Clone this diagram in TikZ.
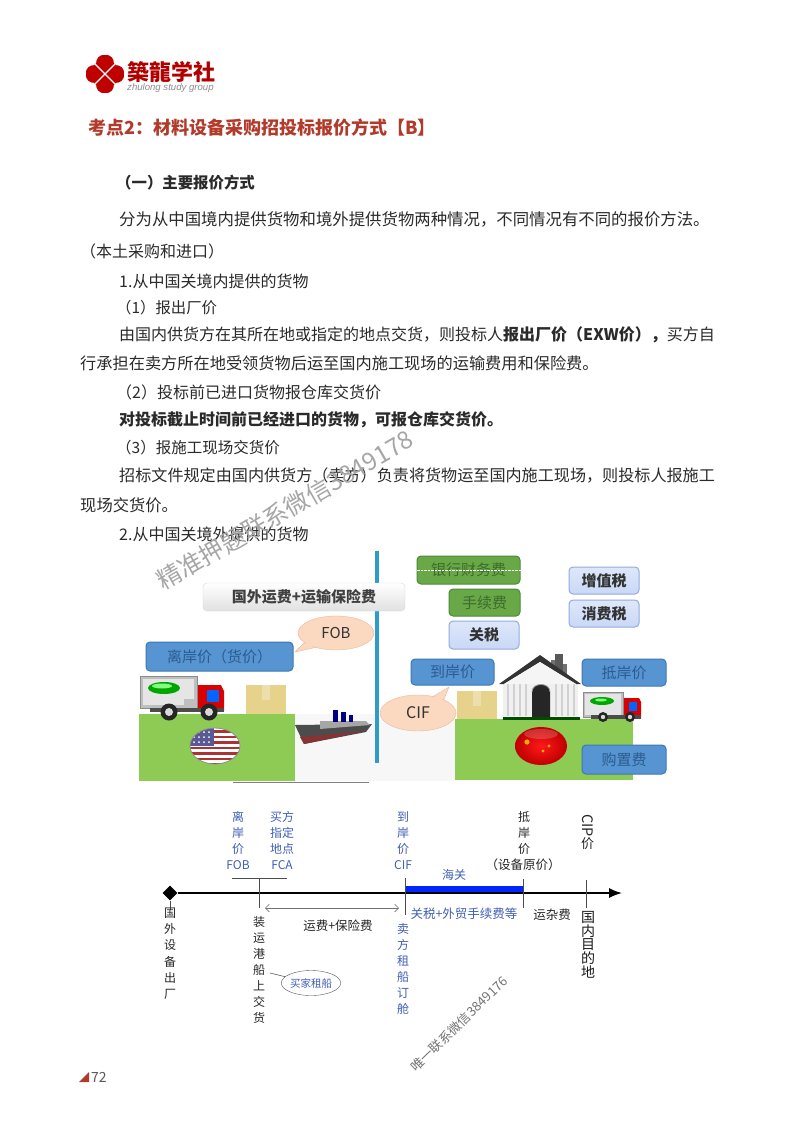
\documentclass[tikz,border=0pt]{standalone}
\usepackage{fontspec}
\usetikzlibrary{shapes.geometric,arrows.meta,shadows}
\setmainfont{Noto Sans CJK SC}
\newfontfamily\latinf{Liberation Sans}
\definecolor{titlered}{HTML}{B23A2B}
\definecolor{bodyk}{HTML}{2A2A2A}
\definecolor{tlblue}{HTML}{3F5FB5}
\definecolor{blbox}{HTML}{5694D2}
\definecolor{blboxd}{HTML}{3E78B4}
\definecolor{blboxt}{HTML}{2C5C8E}
\definecolor{grnbox}{HTML}{68A846}
\definecolor{grnboxd}{HTML}{4C8A38}
\definecolor{grnboxt}{HTML}{3D6C2C}
\definecolor{ground}{HTML}{8DCB55}
\definecolor{pale}{HTML}{C9D8F6}
\definecolor{paled}{HTML}{93ABDF}
\definecolor{peach}{HTML}{FBD8C0}
\definecolor{peachd}{HTML}{EFB899}
\definecolor{cardboard}{HTML}{E6D28A}
\definecolor{divline}{HTML}{2E9CC8}
\tikzset{
  x=1pt,y=-1pt,
  bodyline/.style={anchor=west,inner sep=0pt,font=\fontsize{16}{16}\selectfont,text=bodyk},
  boldline/.style={bodyline,font=\fontsize{16}{16}\selectfont\bfseries},
  pbox/.style={draw=blboxd,line width=1pt,rounded corners=4pt,fill=blbox,inner sep=0pt,text=blboxt,font=\fontsize{15}{15}\selectfont},
  gbox/.style={draw=grnboxd,line width=1pt,rounded corners=4pt,fill=grnbox,inner sep=0pt,text=grnboxt,font=\fontsize{15}{15}\selectfont},
  lbox/.style={draw=paled,line width=1pt,rounded corners=4pt,top color=pale!60!white,bottom color=pale,inner sep=0pt,text=black!80,font=\fontsize{15}{15}\selectfont\bfseries},
  bubble/.style={ellipse,draw=peachd,fill=peach,inner sep=0pt,text=black!80,font=\fontsize{15}{15}\selectfont},
  vtext/.style={align=center,inner sep=0pt,font=\fontsize{12}{16.1}\selectfont},
  tick/.style={draw=black!70,line width=.8pt},
  mark0/.style={text=black!60,inner sep=0pt,font=\fontsize{13}{13}\selectfont},
  tllabel/.style={inner sep=0pt,font=\fontsize{12.5}{12.5}\selectfont},
}
\begin{document}
\begin{tikzpicture}
\useasboundingbox (0,0) rectangle (800,1132);
\fill[white] (0,0) rectangle (800,1132);

% logo
\begin{scope}[shift={(105,74)}]
  \foreach \a in {0,90,180,270}{
    \fill[red!75!black,rotate=\a] (0,0) -- (-8,-8) .. controls (-11,-15) and (-5,-20) .. (0,-19) .. controls (5,-20) and (11,-15) .. (8,-8) -- cycle;
    \fill[red!75!black,rotate=\a+45] (0,0) -- (-8,-6) -- (-6,-14) -- (6,-14) -- (8,-6) -- cycle;
  }
  \draw[white,line width=1.4pt] (-11,-11) -- (11,11) (-11,11) -- (11,-11);
\end{scope}
\node[inner sep=0pt,anchor=west,text=red!70!black,font=\fontsize{22}{22}\selectfont\bfseries] (logotext) at (127,72) {築龍学社};
\node[inner sep=0pt,anchor=west,text=black!45,font=\fontsize{9.6}{9.6}\selectfont] (logosub) at (127,88.5) {\latinf\itshape zhulong study group};

% title and text
\node[bodyline,text=titlered,font=\fontsize{18}{18}\selectfont\bfseries] (title) at (88,128) {考点2：材料设备采购招投标报价方式【B】};
\node[boldline,font=\fontsize{15.4}{15.4}\selectfont\bfseries] (h1) at (116,183) {（一）主要报价方式};
\node[bodyline,font=\fontsize{16.4}{16.4}\selectfont] (t1) at (119,219) {分为从中国境内提供货物和境外提供货物两种情况，不同情况有不同的报价方法。};
\node[bodyline] (t2) at (80,251) {（本土采购和进口）};
\node[bodyline] (t3) at (119,281) {1.从中国关境内提供的货物};
\node[bodyline,font=\fontsize{15.4}{15.4}\selectfont] (t4) at (116,308) {（1）报出厂价};
\node[bodyline] (t5) at (119,335) {由国内供货方在其所在地或指定的地点交货，则投标人\textbf{报出厂价（EXW价），}买方自};
\node[bodyline,font=\fontsize{16.2}{16.2}\selectfont] (t6) at (80,363) {行承担在卖方所在地受领货物后运至国内施工现场的运输费用和保险费。};
\node[bodyline] (t7) at (116,392) {（2）投标前已进口货物报仓库交货价};
\node[boldline] (t8) at (119,420) {对投标截止时间前已经进口的货物，可报仓库交货价。};
\node[bodyline,font=\fontsize{15.5}{15.5}\selectfont] (t9) at (116,448) {（3）报施工现场交货价};
\node[bodyline,font=\fontsize{16.1}{16.1}\selectfont] (t10) at (119,475) {招标文件规定由国内供货方（卖方）负责将货物运至国内施工现场，则投标人报施工};
\node[bodyline,font=\fontsize{16.3}{16.3}\selectfont] (t11) at (80,505) {现场交货价。};
\node[bodyline] (t12) at (119,534) {2.从中国关境外提供的货物};

% picture backdrop
\fill[black!3] (295,714) rectangle (455,781);
\fill[ground] (139,714) rectangle (295,781);
\fill[ground] (455,719) rectangle (633,780);
\draw[black!50,line width=1pt] (233,782) -- (369,782);
\draw[divline,line width=3.4pt] (377,551) -- (377,763);

% boxes
\node[draw=black!15,rounded corners=4pt,top color=white,bottom color=black!12,minimum width=202pt,minimum height=28pt,inner sep=0pt,text=black!75,font=\fontsize{15}{15}\selectfont\bfseries] (freight) at (304,597) {国外运费+运输保险费};
\node[pbox,minimum width=147pt,minimum height=29pt] (lian) at (219.5,656.5) {离岸价（货价）};
\node[gbox,minimum width=103pt,minimum height=28pt] (bank) at (468.5,570) {银行财务费};
\draw[white,densely dotted,line width=.4pt] (bank.west) -- (bank.east);
\node[gbox,minimum width=71pt,minimum height=27pt] (fee) at (484.5,602.5) {手续费};
\node[lbox,minimum width=70pt,minimum height=28pt] (duty) at (484,635) {关税};
\node[lbox,minimum width=70pt,minimum height=27pt] (vat) at (604,580.5) {增值税};
\node[lbox,minimum width=70pt,minimum height=27pt] (cons) at (604,613.5) {消费税};
\node[pbox,minimum width=83pt,minimum height=26pt] (daoan) at (452.5,672) {到岸价};
\node[pbox,minimum width=84pt,minimum height=27pt] (dian) at (624,672.5) {抵岸价};
\node[pbox,minimum width=84pt,minimum height=29pt] (gouzhi) at (624,759.5) {购置费};

% speech bubbles
\coordinate (foby) at (295,652);
\coordinate (cify) at (449,687);
\fill[peach,draw=peachd] (foby) -- (315,632) -- (322,646) -- cycle;
\node[bubble,minimum width=76pt,minimum height=34pt] (fob) at (336,633) {FOB};
\fill[peach,draw=peachd] (cify) -- (424,702) -- (442,704) -- cycle;
\node[bubble,minimum width=76pt,minimum height=36pt,font=\fontsize{16}{16}\selectfont] (cif) at (418,713) {CIF};
\fill[peach] (foby) ++(3,-2) -- (318,634) -- (322,644) -- cycle;
\fill[peach] (cify) ++(-2,3) -- (427,703) -- (440,703) -- cycle;

% left truck
\begin{scope}[shift={(140,675)}]
  \fill[black!25,draw=black!45] (0,1) rectangle (57,33);
  \fill[black!10] (3,4) rectangle (54,30);
  \fill[black!25] (44,24) rectangle (54,30);
  \fill[green!65!black] (24,13) ellipse (16 and 6);
  \fill[green!50!white] (22,11) ellipse (10 and 2.5);
  \fill[red!85!black] (58,10) -- (81,10) -- (84,16) -- (84,36) -- (58,36) -- cycle;
  \fill[blue!60!cyan] (67,15) rectangle (79,27);
  \fill[black!70] (10,33) rectangle (84,37);
  \fill[black!85] (29,37) circle (8.5); \fill[black!15] (29,37) circle (4);
  \fill[black!85] (69,37) circle (8.5); \fill[black!15] (69,37) circle (4);
\end{scope}
% boxes of goods
\fill[cardboard] (246,685) rectangle (286,714);
\fill[cardboard!70!white] (262,685) rectangle (270,700);
\fill[cardboard] (457,691) rectangle (497,719);
\fill[cardboard!70!white] (473,691) rectangle (481,706);

% US flag
\begin{scope}
  \clip (215,746) ellipse (25 and 18);
  \fill[white] (190,728) rectangle (240,764);
  \foreach \yy in {730,735.5,741,746.5,752,757.5,763}{\fill[red!60!black!80] (190,\yy) rectangle (240,\yy+2.8);}
  \fill[blue!35!black!65] (190,728) rectangle (214,746);
  \foreach \xa in {194,199,204,209}{\foreach \ya in {732,737,742}{\fill[white] (\xa,\ya) circle (1);}}
\end{scope}
\draw[black!45,line width=.8pt] (215,746) ellipse (25 and 18);

% ship
\fill[black!70] (295,725) -- (372,724) -- (366,732) -- (304,744) -- cycle;
\fill[red!40!black!80] (300,737) -- (366,731) -- (304,744) -- cycle;
\fill[black!35] (320,721) -- (366,721) -- (370,725) -- (320,729) -- cycle;
\fill[blue!50!black] (333,710) rectangle (338,722);
\fill[blue!50!black] (341,712) rectangle (346,722);
\fill[blue!50!black] (349,715) rectangle (353,722);

% house
\fill[black!6] (503,684) rectangle (578,718);
\foreach \xx in {508,514,520,526,556,562,568,574}{\draw[black!18,line width=1.2pt] (\xx,684) -- (\xx,716);}
\fill[black!65] (555,654) rectangle (563,676);
\fill[black!55] (563,664) rectangle (567,680);
\fill[black!55] (551,660) rectangle (555,672);
\fill[black!80] (499,684) -- (540,655) -- (581,684) -- (576,684) -- (540,662) -- (504,684) -- cycle;
\fill[black!4] (504,684) -- (540,662) -- (576,684) -- cycle;
\fill[black!85] (532,718) -- (532,692) .. controls (532,682) and (550,682) .. (550,692) -- (550,718) -- cycle;
\draw[black!40,line width=.8pt] (532,692) .. controls (532,682) and (550,682) .. (550,692);
\fill[black!70!green] (503,717) rectangle (580,720);

% right truck
\begin{scope}[shift={(583,691)}]
  \fill[black!25,draw=black!45] (0,1) rectangle (40,26);
  \fill[black!10] (2,3) rectangle (38,24);
  \fill[green!65!black] (19,10) ellipse (12 and 4);
  \fill[green!50!white] (18,9) ellipse (6 and 1.5);
  \fill[red!85!black] (41,7) -- (56,7) -- (58,11) -- (58,27) -- (41,27) -- cycle;
  \fill[blue!60!cyan] (46,11) rectangle (54,20);
  \fill[black!70] (8,24) rectangle (58,28);
  \fill[black!85] (20,26) circle (5); \fill[black!15] (20,26) circle (2.2);
  \fill[black!85] (47,26) circle (5); \fill[black!15] (47,26) circle (2.2);
\end{scope}

% China flag
\shade[inner color=red!90!white,outer color=red!75!black] (541,746) ellipse (26 and 19);
\fill[white,opacity=.18] (541,734) ellipse (17 and 5);
\fill[yellow!70!orange,opacity=.8] (527,742) circle (2.6);
\fill[yellow!70!orange,opacity=.8] (549,746) circle (1.7);
\fill[yellow!70!orange,opacity=.8] (543,751) circle (1.7);

% timeline
\node[diamond,fill=black,inner sep=0pt,minimum width=15pt,minimum height=15pt] (start) at (170,893) {};
\coordinate (end) at (622,893);
\coordinate (t1a) at (259,878);\coordinate (t1b) at (259,908);
\coordinate (bar1) at (232,878);\coordinate (bar2) at (287,878);
\coordinate (t2a) at (405,878);\coordinate (t2b) at (405,915);
\coordinate (t3a) at (523,879);\coordinate (t3b) at (523,908);
\coordinate (t4a) at (586,880);\coordinate (t4b) at (586,908);
\coordinate (stem) at (170,910);
\coordinate (arrowa) at (265,908);\coordinate (arrowb) at (399,908);
\fill[blue!85!cyan] (405,886) rectangle (523,893);
\draw[black,line width=1.5pt,-{Latex[length=13pt,width=10pt]}] (start) -- (end);
\draw[tick] (stem) -- (start);
\draw[tick] (t1a) -- (t1b);
\draw[tick] (bar1) -- (bar2);
\draw[tick] (t2a) -- (t2b);
\draw[tick] (t3a) -- (t3b);
\draw[tick] (t4a) -- (t4b);
\draw[black!55,line width=.6pt,{Straight Barb[length=4pt]}-{Straight Barb[length=4pt]}] (arrowa) -- (arrowb);

\node[vtext,anchor=north,text=black!85] (guowai) at (170,908) {国\\外\\设\\备\\出\\厂};
\node[vtext,anchor=south,text=tlblue] (lianv) at (238,870) {离\\岸\\价\\FOB};
\node[vtext,anchor=south,text=tlblue] (maifang) at (282,870) {买方\\指定\\地点\\FCA};
\node[vtext,anchor=north,text=black!85] (zhuangyun) at (259,916) {装\\运\\港\\船\\上\\交\\货};
\node[draw=black!65,ellipse,minimum width=54pt,minimum height=25pt,inner sep=0pt,text=tlblue,font=\fontsize{10.5}{10.5}\selectfont] (zuchuan) at (311,983) {买家租船};
\coordinate (zhuangc) at (270,973);
\draw[black!65,line width=.6pt] (zhuangc) -- (zuchuan);
\node[tllabel,text=black!85] (yunfei) at (338,926) {运费+保险费};
\node[vtext,anchor=south,text=tlblue] (daov) at (403,870) {到\\岸\\价\\CIF};
\node[vtext,anchor=north,text=tlblue] (maichuan) at (403,923) {卖\\方\\租\\船\\订\\舱};
\node[tllabel,text=tlblue,font=\fontsize{12}{12}\selectfont] (haiguan) at (454,875) {海关};
\node[tllabel,text=tlblue] (guanshui) at (464,914) {关税+外贸手续费等};
\node[vtext,anchor=south,text=black!85] (div) at (524,855) {抵\\岸\\价};
\node[tllabel,text=black!85] (yuanjia) at (523,865) {（设备原价）};
\node[tllabel,text=black!85] (zaf) at (552,915) {运杂费};
\node[inner sep=0pt,rotate=-90,text=black!85,font=\fontsize{14.5}{14.5}\selectfont,anchor=center] (cipa) at (587.5,825.5) {CIP};
\node[inner sep=0pt,text=black!85,font=\fontsize{13}{13}\selectfont] (cipb) at (587.5,844) {价};
\node[align=center,inner sep=0pt,anchor=north,text=black!90,font=\fontsize{14}{13.7}\selectfont] (mudi) at (588,911) {国\\内\\目\\的\\地};

% watermarks
\node[mark0,rotate=30,font=\fontsize{24.5}{24.5}\selectfont,text=black!35] (wm1) at (285,510) {精准押题联系微信3849178};
\node[mark0,rotate=44,text=black!55] (wm2) at (459,1024) {唯一联系微信3849176};

% page number
\fill[titlered] (79,1082) -- (89,1072) -- (89,1082) -- cycle;
\node[inner sep=0pt,anchor=west,text=black!65,font=\fontsize{14}{14}\selectfont] (pageno) at (91,1077) {72};
\end{tikzpicture}
\end{document}
